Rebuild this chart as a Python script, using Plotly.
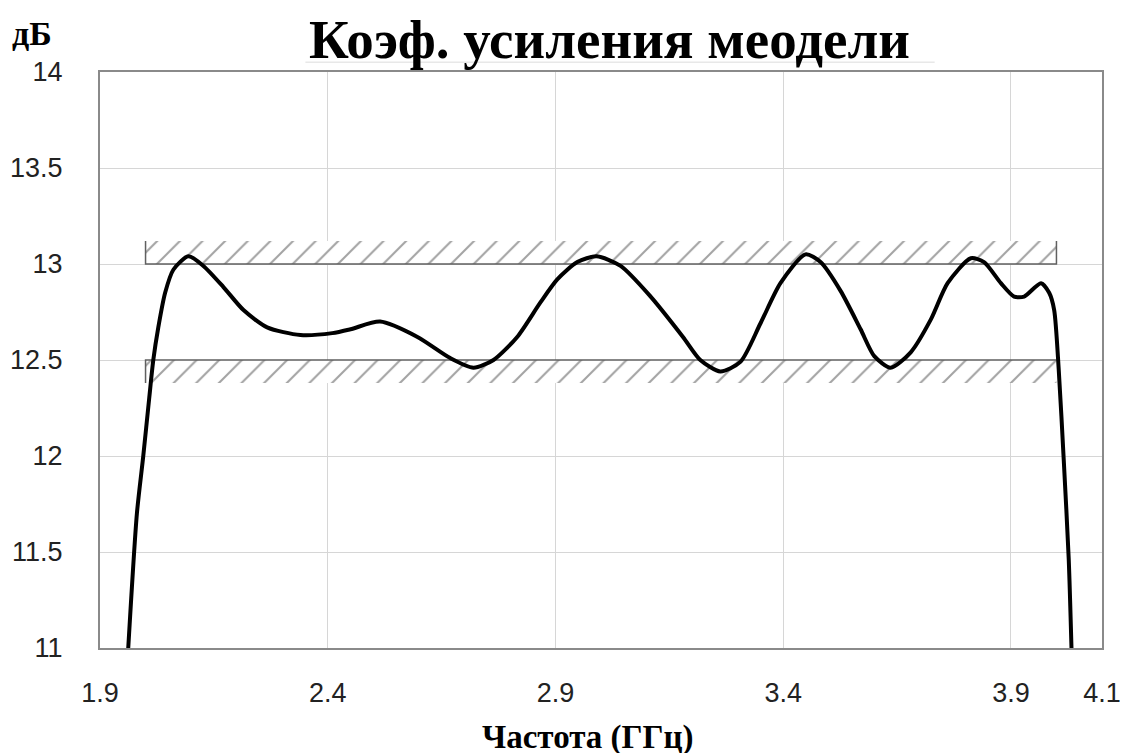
import plotly.graph_objects as go

# ---- data ----
freq = [1.962, 1.981, 1.995, 2.008, 2.017, 2.028, 2.043, 2.061, 2.094, 2.127,
        2.171, 2.215, 2.267, 2.34, 2.41, 2.45, 2.515, 2.597, 2.669, 2.72,
        2.764, 2.816, 2.867, 2.904, 2.948, 2.99, 3.043, 3.109, 3.18, 3.218,
        3.262, 3.306, 3.35, 3.394, 3.449, 3.482, 3.526, 3.57, 3.60, 3.636,
        3.68, 3.724, 3.761, 3.812, 3.841, 3.878, 3.907, 3.929, 3.966, 3.984,
        3.995, 4.005, 4.016, 4.027, 4.033]
gain = [11.0, 11.70, 12.0, 12.30, 12.5, 12.67, 12.85, 12.97, 13.04, 12.99,
        12.88, 12.76, 12.67, 12.63, 12.64, 12.66, 12.70, 12.62, 12.51, 12.46,
        12.50, 12.62, 12.80, 12.92, 13.01, 13.04, 12.99, 12.83, 12.62, 12.50,
        12.44, 12.49, 12.69, 12.90, 13.05, 13.01, 12.86, 12.66, 12.52, 12.46,
        12.54, 12.71, 12.90, 13.03, 13.01, 12.90, 12.83, 12.83, 12.90, 12.85,
        12.76, 12.45, 11.98, 11.46, 11.0]

band_x = [2.0, 4.0]
upper_band = [13.0, 13.12]
lower_band = [12.38, 12.5]

x_ticks = [1.9, 2.4, 2.9, 3.4, 3.9, 4.1]
y_ticks = [11, 11.5, 12, 12.5, 13, 13.5, 14]

title_text = "Коэф. усиления меодели"
x_title = "Частота (ГГц)"
y_title = "дБ"

hatch_col = "#484848"
edge_col = "#606060"

fig = go.Figure()

def band(ylo, yhi):
    x0, x1 = band_x
    fig.add_trace(go.Scatter(
        x=[x0, x1, x1, x0, x0], y=[ylo, ylo, yhi, yhi, ylo],
        mode="lines", line=dict(width=0), fill="toself",
        fillcolor="rgba(0,0,0,0)",
        fillpattern=dict(shape="/", size=16, solidity=0.13,
                         fgcolor=hatch_col, bgcolor="white"),
        hoverinfo="skip", showlegend=False))

band(*upper_band)
band(*lower_band)

# band edges
x0, x1 = band_x
fig.add_trace(go.Scatter(
    x=[x0, x0, x1, x1], y=[upper_band[1], upper_band[0], upper_band[0], upper_band[1]],
    mode="lines", line=dict(color=edge_col, width=1.5),
    hoverinfo="skip", showlegend=False))
fig.add_trace(go.Scatter(
    x=[x0, x0, x1], y=[lower_band[0], lower_band[1], lower_band[1]],
    mode="lines", line=dict(color=edge_col, width=1.5),
    hoverinfo="skip", showlegend=False))

# gain curve
fig.add_trace(go.Scatter(
    x=freq, y=gain, mode="lines",
    line=dict(color="black", width=4, shape="spline", smoothing=0.7),
    showlegend=False))

axis_font = dict(family="Liberation Sans, Arial", size=27, color="#222222")

fig.update_xaxes(range=[1.9, 4.1], tickvals=x_ticks,
                 ticktext=[str(v) for v in x_ticks],
                 showgrid=True, gridcolor="#d6d6d6", gridwidth=1,
                 showline=True, linecolor="#8a8a8a", linewidth=2, mirror=True,
                 ticks="", zeroline=False, tickfont=axis_font,
                 ticklabelstandoff=20, automargin=False)
fig.update_yaxes(range=[11, 14], tickvals=y_ticks,
                 ticktext=[f"{v:g}" for v in y_ticks],
                 showgrid=True, gridcolor="#d6d6d6", gridwidth=1,
                 showline=True, linecolor="#8a8a8a", linewidth=2, mirror=True,
                 ticks="", zeroline=False, tickfont=axis_font,
                 ticklabelstandoff=30, automargin=False)

serif = "Liberation Serif, Times New Roman, serif"
fig.update_layout(
    width=1128, height=753,
    margin=dict(l=92, r=34, t=64, b=113, autoexpand=False),
    paper_bgcolor="white", plot_bgcolor="white",
    annotations=[
        dict(text=f"<b>{title_text}</b>", xref="paper", yref="paper",
             x=0.508, y=1.0556, showarrow=False, xanchor="center", yanchor="middle",
             font=dict(family=serif, size=55, color="black")),
        dict(text=f"<b>{y_title}</b>", xref="paper", yref="paper",
             x=-0.068, y=1.066, showarrow=False, xanchor="center", yanchor="middle",
             font=dict(family=serif, size=34, color="black")),
        dict(text=f"<b>{x_title}</b>", xref="paper", yref="paper",
             x=0.487, y=-0.155, showarrow=False, xanchor="center", yanchor="middle",
             font=dict(family=serif, size=33, color="black")),
    ],
    shapes=[dict(type="line", xref="paper", yref="paper",
                 x0=0.205, x1=0.833, y0=1.017, y1=1.017,
                 line=dict(color="#e8e8e8", width=1.5))],
)

fig.write_html("out.html")
